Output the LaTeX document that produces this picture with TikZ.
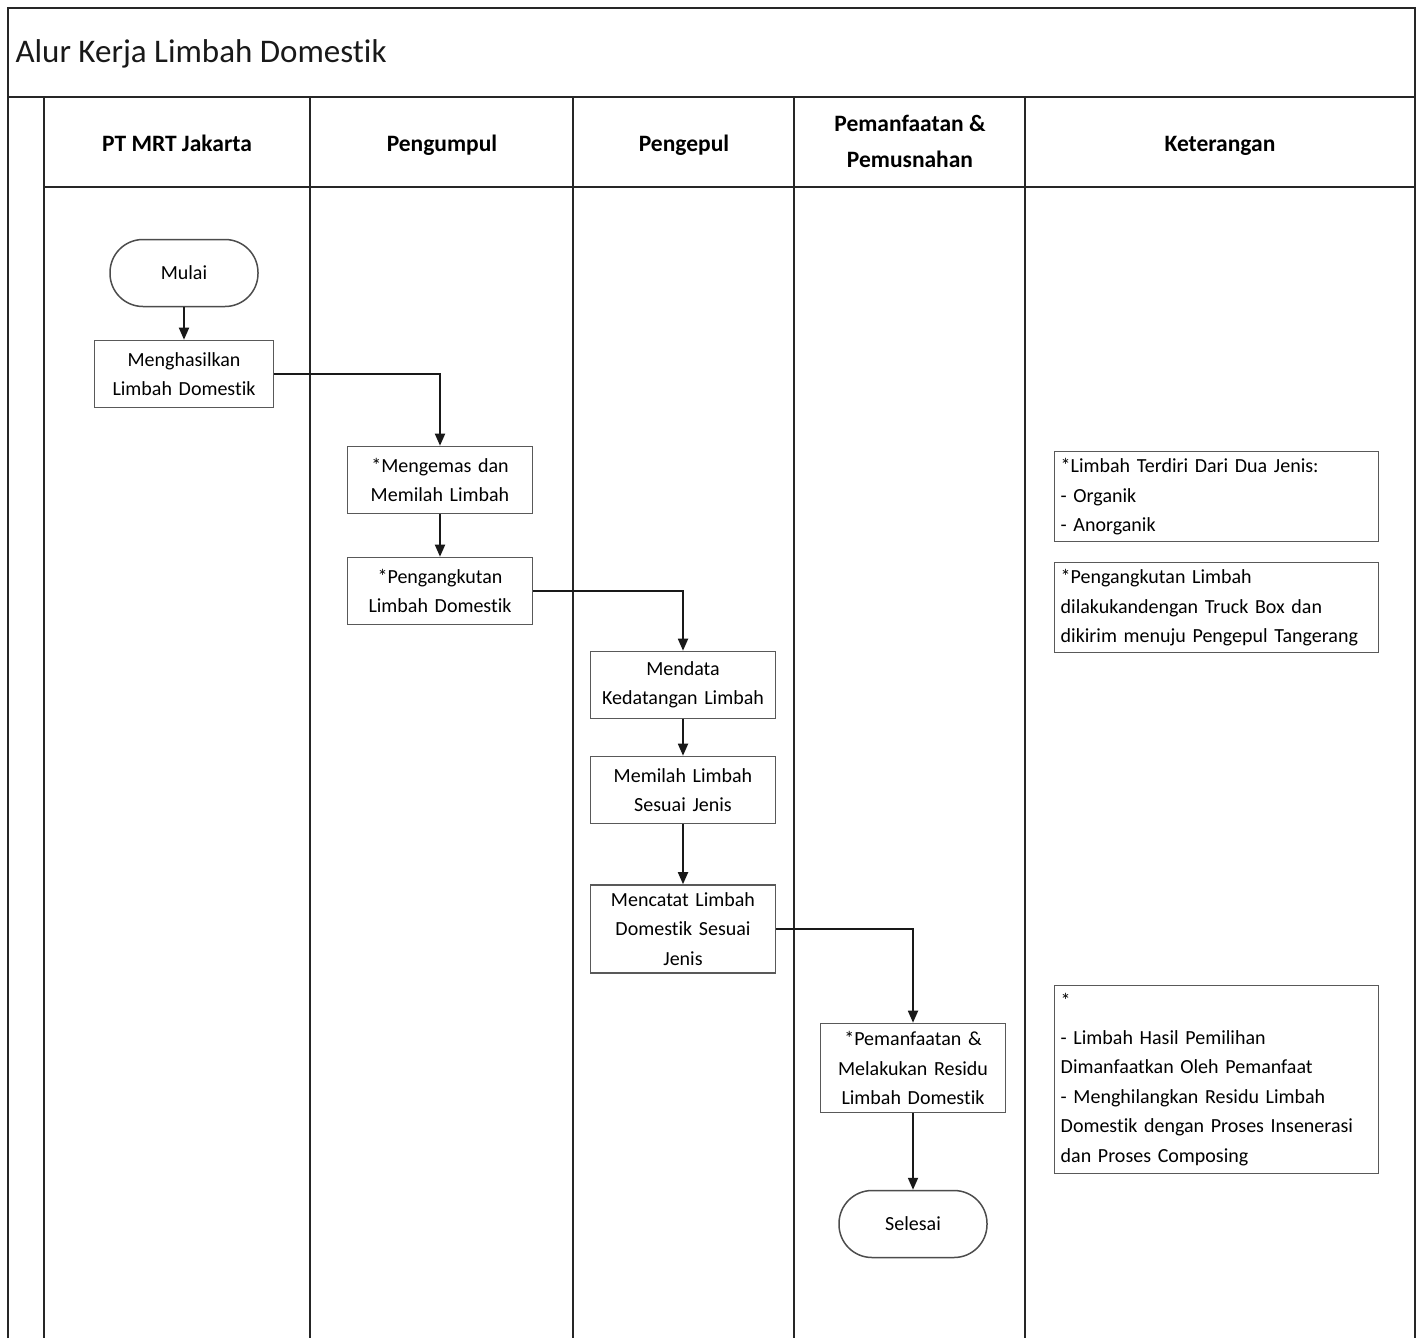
\documentclass[tikz,border=0pt]{standalone}
\usepackage{fontspec}
\setmainfont{Carlito}[Ligatures=NoCommon]
\usetikzlibrary{arrows.meta}
\newcommand\boxfont{\fontsize{20}{29.5}\selectfont}
\newcommand\headfont{\fontsize{23.5}{36}\selectfont\bfseries}
\newcommand\titlefont{\fontsize{33}{38}\selectfont}
\begin{document}
\begin{tikzpicture}[x=1pt,y=-1pt,
  frame/.style={line width=2.8pt, draw=black!85},
  proc/.style={draw=black!65, line width=1.6pt, minimum width=185pt, minimum height=67pt,
    text width=178pt, align=center, font=\boxfont, inner sep=0pt},
  term/.style={draw=black!70, line width=1.5pt, rounded corners=33pt, minimum width=148pt,
    minimum height=67pt, font=\boxfont, inner sep=0pt},
  note/.style={draw=black!65, line width=1.4pt, anchor=north west, align=left,
    text width=312pt, inner xsep=6pt, font=\boxfont},
  head/.style={font=\headfont, align=center, text depth=0.25em},
  flow/.style={-{Triangle[length=12pt,width=10pt]}, line width=1.8pt, black!90}]
\useasboundingbox (0,0) rectangle (1423,1338);
\fill[white] (0,0) rectangle (1423,1338);

% outer frame, title row and swimlane grid
\draw[frame] (8,1338) -- (8,8) -- (1415,8) -- (1415,1338);
\draw[frame] (8,97) -- (1415,97);
\draw[frame] (44,97) -- (44,1338);
\draw[frame] (44,187) -- (1415,187);
\foreach \x in {310,573,794,1025} \draw[frame] (\x,97) -- (\x,1338);

% title and lane headers
\node[font=\titlefont, anchor=west, text=black!90] (title) at (12,54) {Alur Kerja Limbah Domestik};
\node[head] (h1) at (177,145) {PT MRT Jakarta};
\node[head] (h2) at (442,145) {Pengumpul};
\node[head] (h3) at (684,145) {Pengepul};
\node[head] (h4) at (910,143) {Pemanfaatan \&\\Pemusnahan};
\node[head] (h5) at (1220,145) {Keterangan};

% process steps
\node[term] (mulai) at (184,273) {Mulai};
\node[proc, minimum width=179pt] (p1) at (184,374) {Menghasilkan\\Limbah Domestik};
\node[proc] (p2) at (440,480) {*Mengemas dan\\Memilah Limbah};
\node[proc] (p3) at (440,591) {*Pengangkutan\\Limbah Domestik};
\node[proc] (p4) at (683,685) {Mendata\\Kedatangan Limbah};
\node[proc] (p5) at (683,790) {Memilah Limbah\\Sesuai Jenis};
\node[proc, minimum height=88pt] (p6) at (683,929) {Mencatat Limbah\\Domestik Sesuai\\Jenis};
\node[proc, minimum height=89pt] (p7) at (913,1068) {*Pemanfaatan \&\\Melakukan Residu\\Limbah Domestik};
\node[term] (selesai) at (913,1224) {Selesai};

% notes
\node[note, minimum height=90pt] (n1) at (1054,451)
  {*Limbah Terdiri Dari Dua Jenis:\\- Organik\\- Anorganik};
\node[note, minimum height=90pt] (n2) at (1054,562)
  {*Pengangkutan Limbah\\dilakukandengan Truck Box dan\\dikirim menuju Pengepul Tangerang};
\node[note, minimum height=188pt] (n3) at (1054,985)
  {*\\[7pt]- Limbah Hasil Pemilihan\\Dimanfaatkan Oleh Pemanfaat\\- Menghilangkan Residu Limbah\\Domestik dengan Proses Insenerasi\\dan Proses Composing};

% connectors
\draw[flow] (mulai) -- (p1);
\draw[flow] (p1.east) -| (p2.north);
\draw[flow] (p2) -- (p3);
\draw[flow] (p3.east) -| (p4.north);
\draw[flow] (p4) -- (p5);
\draw[flow] (p5) -- (p6);
\draw[flow] (p6.east) -| (p7.north);
\draw[flow] (p7) -- (selesai);
\end{tikzpicture}
\end{document}
